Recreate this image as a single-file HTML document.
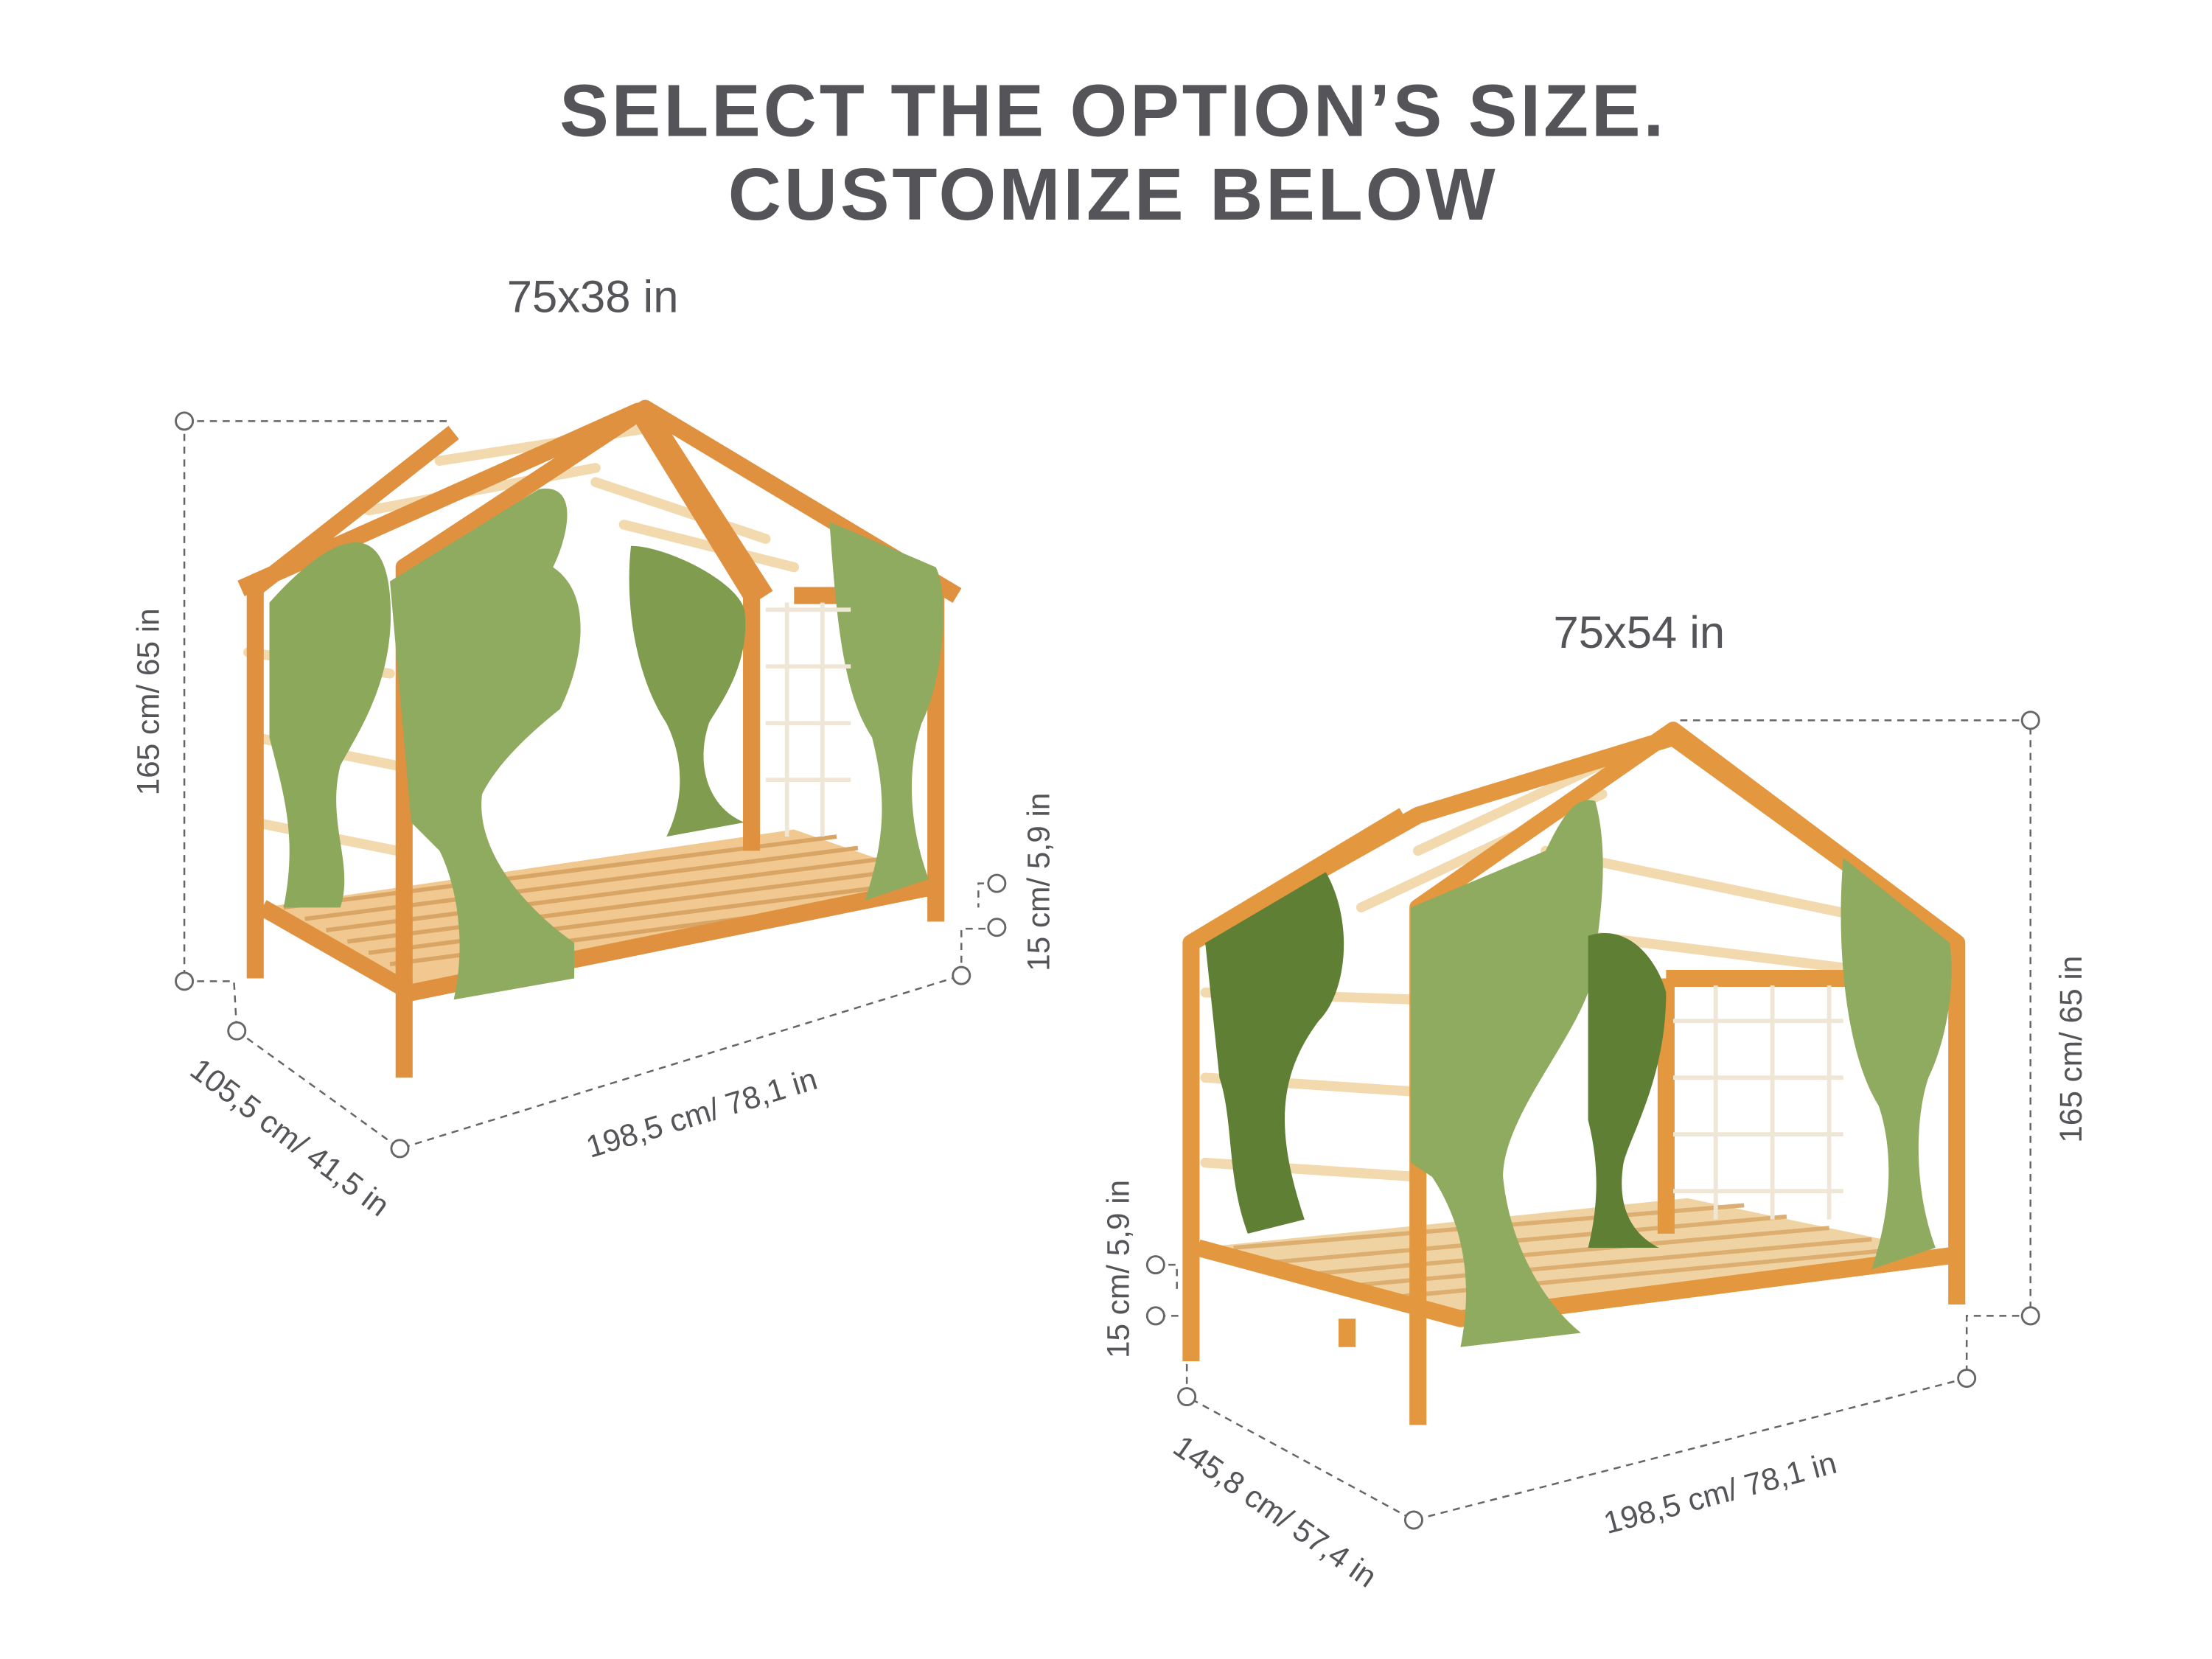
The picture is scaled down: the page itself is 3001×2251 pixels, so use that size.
<!DOCTYPE html>
<html><head><meta charset="utf-8"><style>
html,body{margin:0;padding:0;background:#fff;width:3001px;height:2251px;overflow:hidden}
svg{display:block}
text{font-family:"Liberation Sans",sans-serif;fill:#555559}
</style></head><body>
<svg width="3001" height="2251" viewBox="0 0 1560 1170" preserveAspectRatio="none">
<!-- title -->
<text x="785" y="96" text-anchor="middle" font-size="52" font-weight="bold" letter-spacing="2">SELECT THE OPTION’S SIZE.</text>
<text x="785" y="155" text-anchor="middle" font-size="52" font-weight="bold" letter-spacing="2">CUSTOMIZE BELOW</text>
<text x="418" y="220" text-anchor="middle" font-size="32">75x38 in</text>
<text x="1156" y="457" text-anchor="middle" font-size="32">75x54 in</text>

<g stroke="#666" stroke-width="1.3" stroke-dasharray="5,4" fill="none">
<!-- left bed dims -->
<path d="M130 297H318M130 297V692M130 692H165L167 727M167 727L282 810L678 688M678 688V655H703M703 623H690V640"/>
<!-- right bed dims -->
<path d="M1185 508H1432V928H1387V972M1387 972L997 1072L837 985M837 985V928H815M815 892H830V910"/>
</g>
<g stroke="#666" stroke-width="1.5" fill="#fff">
<circle cx="130" cy="297" r="6"/><circle cx="130" cy="692" r="6"/><circle cx="167" cy="727" r="6"/><circle cx="282" cy="810" r="6"/><circle cx="678" cy="688" r="6"/><circle cx="703" cy="623" r="6"/><circle cx="703" cy="654" r="6"/>
<circle cx="1432" cy="508" r="6"/><circle cx="1432" cy="928" r="6"/><circle cx="1387" cy="972" r="6"/><circle cx="997" cy="1072" r="6"/><circle cx="837" cy="985" r="6"/><circle cx="815" cy="892" r="6"/><circle cx="815" cy="928" r="6"/>
</g>
<g font-size="22">
<text transform="translate(112,495) rotate(-90)" text-anchor="middle">165 cm/ 65 in</text>
<text transform="translate(740,622) rotate(-90)" text-anchor="middle">15 cm/ 5,9 in</text>
<text transform="translate(200,808) rotate(37)" text-anchor="middle">105,5 cm/ 41,5 in</text>
<text transform="translate(497,792) rotate(-17)" text-anchor="middle">198,5 cm/ 78,1 in</text>
<text transform="translate(1468,740) rotate(-90)" text-anchor="middle">165 cm/ 65 in</text>
<text transform="translate(796,895) rotate(-90)" text-anchor="middle">15 cm/ 5,9 in</text>
<text transform="translate(1215,1060) rotate(-15)" text-anchor="middle">198,5 cm/ 78,1 in</text>
<text transform="translate(895,1072) rotate(35)" text-anchor="middle">145,8 cm/ 57,4 in</text>
</g>

<!-- LEFT BED -->
<g>
<polygon points="185,640 290,700 660,620 560,585" fill="#f0c890"/>
<g stroke="#d9a565" stroke-width="3">
<path d="M200,640 L590,590 M215,648 L605,598 M230,656 L620,606 M245,664 L635,614 M260,672 L650,622 M275,680 L660,630"/>
</g>
<g stroke="#f2d9ae" stroke-width="7" stroke-linecap="round">
<path d="M310 325L470 300M260 360L420 330M420 340L540 380M440 370L560 400M175 460L275 475M180 520L280 540M180 580L280 600"/>
</g>
<g fill="none" stroke="#e0913f" stroke-width="12" stroke-linejoin="round">
<path d="M180 690V415L320 305M170 415L450 290L530 420V600M285 760V400L455 288L540 420M660 650V420L560 420M455 288L675 420"/>
<path d="M185 640L290 700L660 625"/>
</g>
<path d="M190 425 C230 380 270 360 275 420 C280 480 250 520 240 540 C230 580 250 610 240 640 L200 640 C210 590 200 560 190 520Z" fill="#8ba85b"/>
<path d="M275 410 L380 345 C410 340 400 380 390 400 C420 420 410 470 395 500 C370 520 350 540 340 560 C335 600 370 640 405 665 L405 690 L320 705 C330 660 320 620 310 600 L290 580Z" fill="#8fab5f"/>
<path d="M445 385 C470 385 520 410 525 430 C530 470 505 500 500 510 C490 540 500 570 525 580 L470 590 C485 560 480 530 470 510 C450 480 440 430 445 385Z" fill="#7f9c4f"/>
<path d="M585 368 L660 400 C670 420 665 480 650 510 C640 540 640 580 655 620 L610 635 C625 590 625 560 615 520 C595 490 590 440 585 368Z" fill="#8fab5f"/>
<g stroke="#efe6d6" stroke-width="3" fill="none"><path d="M540 430H600M540 470H600M540 510H600M540 550H600M555 425V590M580 425V590"/></g>
</g>

<!-- RIGHT BED -->
<g>
<polygon points="845,880 1030,930 1380,885 1190,845" fill="#f0d3a2"/>
<g stroke="#dcae70" stroke-width="3">
<path d="M870,880 L1230,850 M900,890 L1260,858 M930,898 L1290,866 M960,906 L1320,874 M990,914 L1350,880"/>
</g>
<g stroke="#f2d9ae" stroke-width="7" stroke-linecap="round">
<path d="M1000 600L1170 520M960 640L1130 560M1090 600L1330 650M1120 660L1360 690M850 700L1000 705M850 760L1000 770M850 820L1000 830"/>
</g>
<g fill="none" stroke="#e3973f" stroke-width="12" stroke-linejoin="round">
<path d="M840 960V665L990 575M840 665L1000 575L1180 520L1380 665V920M1000 1005V640L1180 515L1380 665M1175 690H1370M1175 690V870"/>
<path d="M845 880L1030 930L1380 885"/>
<path d="M950 950V930"/>
</g>
<path d="M850 665 L935 615 C955 650 950 700 930 720 C900 760 900 800 920 860 L880 870 C865 830 870 790 860 760Z" fill="#5f7f35"/>
<path d="M995 640 L1090 600 C1100 580 1110 560 1125 565 C1135 600 1130 650 1120 700 C1105 740 1060 790 1060 830 C1065 880 1090 920 1115 940 L1030 950 C1040 900 1030 860 1010 830 L995 820Z" fill="#8fab5f"/>
<path d="M1120 660 C1150 650 1170 680 1175 700 C1175 760 1150 800 1145 820 C1140 850 1150 870 1170 880 L1120 880 C1130 840 1125 810 1120 790Z" fill="#5f7f35"/>
<path d="M1300 605 L1375 665 C1380 700 1370 740 1360 760 C1350 790 1350 840 1365 880 L1320 895 C1335 850 1335 810 1325 780 C1300 740 1295 660 1300 605Z" fill="#8fab5f"/>
<g stroke="#efe6d6" stroke-width="3" fill="none"><path d="M1180 720H1300M1180 760H1300M1180 800H1300M1180 840H1300M1210 695V860M1250 695V860M1290 695V860"/></g>
</g>
</svg>
</body></html>
